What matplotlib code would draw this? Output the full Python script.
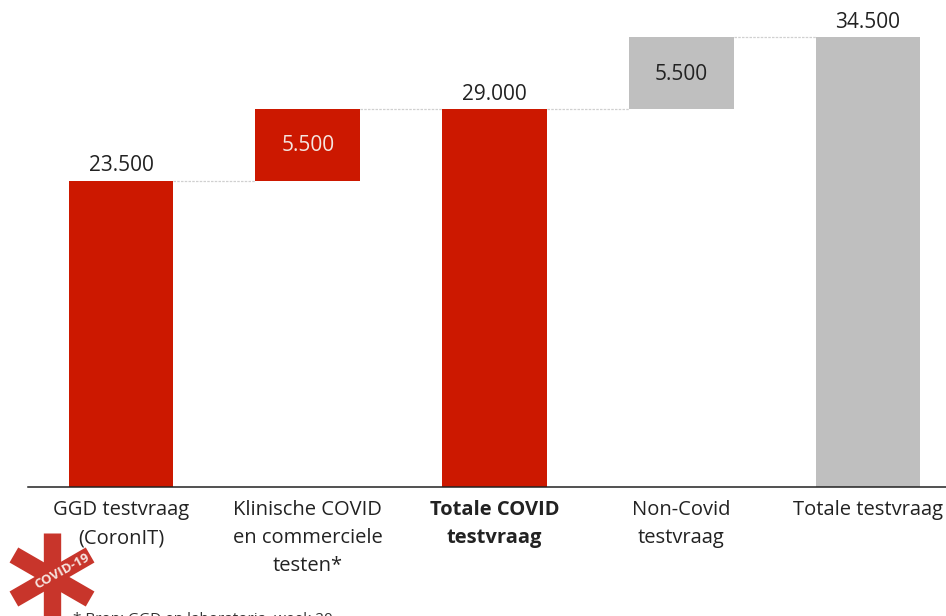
import numpy as np
import matplotlib
matplotlib.use('Agg')
import matplotlib.pyplot as plt

plt.rcParams['font.family'] = ['Open Sans', 'DejaVu Sans']

# --- DATA ---
labels = ['GGD testvraag\n(CoronIT)', 'Klinische COVID\nen commerciele\ntesten*',
          'Totale COVID\ntestvraag', 'Non-Covid\ntestvraag', 'Totale testvraag']
bottoms = [0, 23500, 0, 29000, 0]
heights = [23500, 5500, 29000, 5500, 34500]
value_text = ['23.500', '5.500', '29.000', '5.500', '34.500']
colors = ['#CC1800', '#CC1800', '#CC1800', '#BFBFBF', '#BFBFBF']
connect_levels = [23500, 29000, 29000, 34500]
# NOTE: placeholder wording, the reference footnote is cut off and unreadable
footnote = '* Bron: GGD en laboratoria, week 20'

W, H = 946, 616

fig = plt.figure(figsize=(W / 100, H / 100), dpi=100)
# one axes spanning the figure; x runs in bar slots, y in test counts
y_per_px = 34500 / 449
ax = fig.add_axes([0, 0, 1, 1])
ax.set_xlim(-121 / 186.75, (W - 121) / 186.75)
ax.set_ylim(-(H - 486.5) * y_per_px, 486.5 * y_per_px)
ax.axis('off')

x = np.arange(len(labels))
ax.bar(x, heights, bottom=bottoms, width=0.56, color=colors, zorder=2)
ax.plot([-0.5, 5.05], [0, 0], color='#222222', lw=1.1, zorder=3)

# dotted connectors between the bars
for i, lev in enumerate(connect_levels):
    ax.plot([i + 0.28, i + 0.72], [lev, lev], color='#D0D0D0', lw=0.9, ls=(0, (2, 1)), zorder=1)

# value labels
for i, t in enumerate(value_text):
    top = bottoms[i] + heights[i]
    if i in (1, 3):
        ax.annotate(t, (i, bottoms[i] + heights[i] / 2), xytext=(0, -0.7), textcoords='offset points',
                    ha='center', va='center', fontsize=15,
                    color='#F5E6E0' if i == 1 else '#222222')
    else:
        ax.annotate(t, (i, top), xytext=(0, 3), textcoords='offset points', ha='center',
                    va='bottom', fontsize=15, color='#222222')

# category labels
for i, t in enumerate(labels):
    ax.annotate(t, (i, 0), xytext=(0, -10), textcoords='offset points', ha='center', va='top',
                fontsize=14.5, color='#222222', linespacing=1.53,
                fontweight='bold' if i == 2 else 'normal')

# covid logo in figure pixels
lax = fig.add_axes([0, 0, 1, 1])
lax.set_xlim(0, W)
lax.set_ylim(H, 0)
lax.axis('off')
lax.patch.set_alpha(0)
cx, cy = 52, 577
for ang in (90, 30, 150):
    a = np.deg2rad(ang)
    dx, dy = 44 * np.cos(a), 44 * np.sin(a)
    lax.plot([cx - dx, cx + dx], [cy - dy, cy + dy], color='#C8352B', lw=12.5, solid_capstyle='butt')
lax.text(62, 571, 'COVID-19', rotation=29, ha='center', va='center', fontsize=9.5,
         color='#F6E3DE', fontweight='bold', rotation_mode='anchor')

# footnote, cut off by the lower edge of the image as in the reference
fig.text(73 / W, 1 - 612 / H, footnote, ha='left', va='top', fontsize=11, color='#333333')

fig.savefig('out.png', dpi=100)
